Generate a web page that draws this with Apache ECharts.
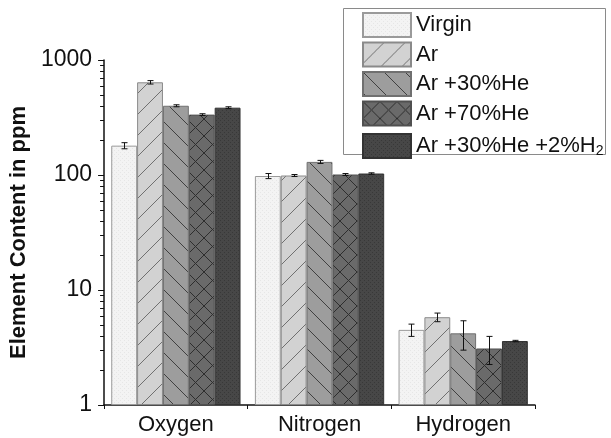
<!DOCTYPE html>
<html>
<head>
<meta charset="utf-8">
<script src="https://cdn.jsdelivr.net/npm/echarts@6/dist/echarts.min.js"></script>
<style>html,body{margin:0;padding:0;background:#fff}#c{width:611px;height:438px}</style>
</head>
<body>
<div id="c"></div>
<script>
// ---- data ----
var categories = ['Oxygen', 'Nitrogen', 'Hydrogen'];
var seriesNames = ['Virgin', 'Ar', 'Ar +30%He', 'Ar +70%He', 'Ar +30%He +2%H2'];
var virgin = [180, 98, 4.5];
var ar = [640, 99, 5.8];
var he30 = [400, 130, 4.2];
var he70 = [335, 101, 3.1];
var h2mix = [385, 103, 3.6];
var virginErr = [11, 5, 0.55];
var arErr = [22, 2, 0.5];
var he30Err = [8, 4, 1.2];
var he70Err = [6, 2, 0.85];
var h2mixErr = [7, 1.5, 0.05];
var yTickLabels = ['1', '10', '100', '1000'];
var yMinorTicks = [2,3,4,5,6,7,8,9,20,30,40,50,60,70,80,90,200,300,400,500,600,700,800,900];

var values = [virgin, ar, he30, he70, h2mix];
var errs = [virginErr, arErr, he30Err, he70Err, h2mixErr];

// ---- patterns ----
function tile(size, bg, draw) {
  var c = document.createElement('canvas');
  c.width = size; c.height = size;
  var g = c.getContext('2d');
  g.fillStyle = bg; g.fillRect(0, 0, size, size);
  if (draw) draw(g, size);
  return {image: c, repeat: 'repeat'};
}
function slash(col) {
  return function (g, s) {
    g.strokeStyle = col; g.lineWidth = 1;
    g.beginPath();
    g.moveTo(0, s); g.lineTo(s, 0);
    g.moveTo(-1, 1); g.lineTo(1, -1);
    g.moveTo(s - 1, s + 1); g.lineTo(s + 1, s - 1);
    g.stroke();
  };
}
function backslash(col) {
  return function (g, s) {
    g.strokeStyle = col; g.lineWidth = 1;
    g.beginPath();
    g.moveTo(0, 0); g.lineTo(s, s);
    g.moveTo(s - 1, -1); g.lineTo(s + 1, 1);
    g.moveTo(-1, s - 1); g.lineTo(1, s + 1);
    g.stroke();
  };
}
function cross(col) {
  return function (g, s) { slash(col)(g, s); backslash(col)(g, s); };
}
function speckle(col) {
  return function (g, s) {
    g.fillStyle = col;
    g.fillRect(0, 0, 1, 1); g.fillRect(2, 2, 1, 1);
  };
}
var fills = [
  tile(4, '#f3f3f3', speckle('#e6e6e6')),
  tile(21, '#d2d2d2', slash('#707070')),
  tile(21, '#9d9d9d', backslash('#404040')),
  tile(17, '#6a6a6a', cross('#2e2e2e')),
  tile(4, '#474747', speckle('#383838'))
];
var borders = ['#9a9a9a', '#8a8a8a', '#707070', '#505050', '#333333'];

var series = [];
for (var i = 0; i < 5; i++) {
  series.push({
    name: seriesNames[i],
    type: 'bar',
    data: values[i],
    barGap: '0%',
    barCategoryGap: '10%',
    itemStyle: {color: fills[i], borderColor: borders[i], borderWidth: 1},
    emphasis: {disabled: true},
    z: 2
  });
}
var errData = [];
for (var s = 0; s < 5; s++) {
  for (var k = 0; k < categories.length; k++) {
    errData.push([k, s, values[s][k] - errs[s][k], values[s][k] + errs[s][k]]);
  }
}
series.push({
  type: 'custom',
  data: errData,
  encode: {x: 0, y: [2, 3]},
  z: 5,
  silent: true,
  renderItem: function (params, api) {
    var cat = api.value(0), si = api.value(1);
    var lo = api.value(2), hi = api.value(3);
    var cw = api.size([1, 0])[0];
    var bw = cw * 0.9 / 5;
    var cx = Math.round(api.coord([cat, 1])[0] - cw * 0.45 + bw * (si + 0.5)) + 0.5;
    var y1 = api.coord([cat, lo])[1];
    var y2 = api.coord([cat, hi])[1];
    var st = {stroke: '#111', lineWidth: 1};
    return {type: 'group', children: [
      {type: 'line', shape: {x1: cx, y1: y1, x2: cx, y2: y2}, style: st},
      {type: 'line', shape: {x1: cx - 3, y1: y1, x2: cx + 3, y2: y1}, style: st},
      {type: 'line', shape: {x1: cx - 3, y1: y2, x2: cx + 3, y2: y2}, style: st}
    ]};
  }
});
series.push({
  type: 'custom',
  data: yMinorTicks.map(function (v) { return [0, v]; }),
  encode: {x: 0, y: 1},
  silent: true,
  clip: false,
  z: 6,
  renderItem: function (params, api) {
    var y = Math.round(api.coord([0, api.value(1)])[1]) + 0.5;
    var x0 = params.coordSys.x;
    return {type: 'line', shape: {x1: x0 - 4, y1: y, x2: x0, y2: y}, style: {stroke: '#111', lineWidth: 1}};
  }
});

var FONT = '"Liberation Sans", Arial, sans-serif';
var chart = echarts.init(document.getElementById('c'), null, {renderer: 'canvas'});
chart.setOption({
  animation: false,
  backgroundColor: '#fff',
  textStyle: {fontFamily: FONT},
  grid: {left: 103, right: 76, top: 60, bottom: 33, containLabel: false},
  legend: {
    data: seriesNames,
    orient: 'vertical',
    left: 362, top: 12, padding: 0,
    itemWidth: 48, itemHeight: 24, itemGap: 3.5,
    icon: 'rect',
    selectedMode: false,
    textStyle: {
      fontFamily: FONT, fontSize: 22, color: '#111', lineHeight: 24,
      rich: {sub: {fontFamily: FONT, fontSize: 14, color: '#111', lineHeight: 24, verticalAlign: 'bottom', padding: [14, 0, 0, 0]}}
    },
    formatter: function (n) { return n === 'Ar +30%He +2%H2' ? 'Ar +30%He +2%H{sub|2}' : n; }
  },
  graphic: [{
    type: 'rect', left: 343, top: 8, z: 1,
    shape: {width: 262, height: 146},
    style: {fill: '#fff', stroke: '#8a8a8a', lineWidth: 1}
  }],
  xAxis: [{
    type: 'category', data: categories, position: 'bottom',
    axisLine: {lineStyle: {color: '#111', width: 1.5}},
    axisTick: {alignWithLabel: true, length: 6, lineStyle: {color: '#111'}},
    axisLabel: {fontFamily: FONT, fontSize: 22, color: '#111', margin: 9}
  }, {
    type: 'category', data: categories, position: 'bottom',
    axisLine: {show: false},
    axisTick: {show: true, length: 4, lineStyle: {color: '#111'}},
    axisLabel: {show: false}
  }],
  yAxis: {
    type: 'log', logBase: 10, min: 1, max: 1000,
    name: 'Element Content in ppm',
    nameLocation: 'middle', nameGap: 74, nameRotate: 90,
    nameTextStyle: {fontFamily: FONT, fontSize: 22, fontWeight: 'bold', color: '#111', padding: [0, 0, 0, 0]},
    axisLine: {show: true, lineStyle: {color: '#111', width: 1.5}},
    axisTick: {show: true, length: 6, lineStyle: {color: '#111'}},
    axisLabel: {fontFamily: FONT, fontSize: 23, color: '#111', margin: 12,
      formatter: function (v) { var s = String(Math.round(v)); return yTickLabels.indexOf(s) >= 0 ? s : ''; }},
    splitLine: {show: false}
  },
  series: series
});
</script>
</body>
</html>
